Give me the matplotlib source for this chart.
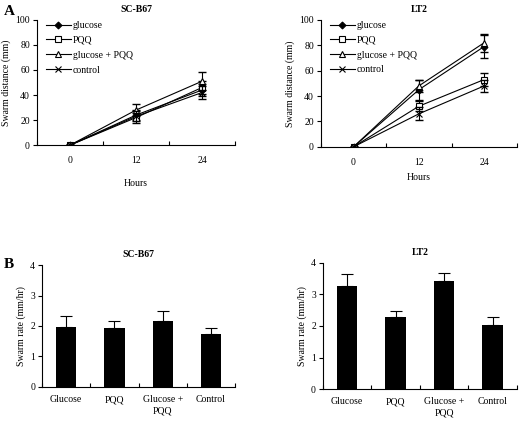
import matplotlib
matplotlib.use('Agg')
import matplotlib.pyplot as plt
import numpy as np

plt.rcParams['font.family'] = ['Liberation Serif', 'DejaVu Serif']
plt.rcParams['font.size'] = 7

# Dades: distància (panell A)
hores = ['0', '12', '24']
series = ['glucose', 'PQQ', 'glucose + PQQ', 'control']
marcadors = ['D', 's', '^', 'x']
omplert = ['black', 'white', 'white', 'black']

dist_sc = {
    'glucose': [0, 24, 44],
    'PQQ': [0, 22, 46],
    'glucose + PQQ': [0, 28, 51],
    'control': [0, 23, 42],
}
err_sc = {
    'glucose': [0, 4, 5],
    'PQQ': [0, 4, 5],
    'glucose + PQQ': [0, 5, 7],
    'control': [0, 4, 5],
}
dist_lt = {
    'glucose': [0, 45, 79],
    'PQQ': [0, 32, 53],
    'glucose + PQQ': [0, 48, 82],
    'control': [0, 26, 48],
}
err_lt = {
    'glucose': [0, 8, 9],
    'PQQ': [0, 4, 5],
    'glucose + PQQ': [0, 5, 7],
    'control': [0, 5, 5],
}

# Dades: velocitat (panell B)
tractaments = ['Glucose', 'PQQ', 'Glucose +\nPQQ', 'Control']
vel_sc = [1.97, 1.92, 2.17, 1.74]
verr_sc = [0.35, 0.24, 0.32, 0.21]
vel_lt = [3.28, 2.28, 3.42, 2.04]
verr_lt = [0.38, 0.19, 0.27, 0.25]

fig = plt.figure(figsize=(5.2, 4.22), dpi=100)


def estil_eixos(ax, n):
    ax.spines['top'].set_visible(False)
    ax.spines['right'].set_visible(False)
    ax.spines['left'].set_linewidth(0.8)
    ax.spines['bottom'].set_linewidth(0.8)
    ax.set_xlim(-0.5, n - 0.5)
    ax.set_xticks(np.arange(n))
    ax.set_xticks(np.arange(n + 1) - 0.5, minor=True)
    ax.tick_params(axis='x', which='major', length=0, pad=8)
    ax.tick_params(axis='x', which='minor', length=3, direction='in', width=0.8)
    ax.tick_params(axis='y', length=3, width=0.8, pad=2)


def panell_linies(ax, dades, errs, titol, lpad):
    x = np.arange(len(hores))
    for s, m, fc in zip(series, marcadors, omplert):
        ax.errorbar(x, dades[s], yerr=errs[s], color='black', lw=0,
                    capsize=3, elinewidth=0.8, fmt='none', ecolor='black')
        ax.plot(x, dades[s], color='black', lw=0.8,
                marker=m, ms=4 if m != 'D' else 3.5, mfc=fc, mec='black',
                mew=0.8, label=s)
    estil_eixos(ax, len(hores))
    ax.set_xticklabels(hores)
    ax.set_ylim(0, 100)
    ax.set_yticks([0, 20, 40, 60, 80, 100])
    ax.set_ylabel('Swarm distance (mm)', labelpad=3)
    ax.set_xlabel('Hours', labelpad=lpad)
    ax.set_title(titol, fontweight='bold', fontsize=7, pad=6)
    ax.legend(loc='upper left', bbox_to_anchor=(0.0, 1.06), frameon=False,
              fontsize=7, handlelength=2.6, handletextpad=0.2, labelspacing=0.6)


def panell_barres(ax, vals, errs, titol):
    x = np.arange(len(tractaments))
    ax.bar(x, vals, width=0.42, color='black',
           yerr=[np.zeros(len(errs)), errs], capsize=4,
           error_kw=dict(elinewidth=0.8, capthick=0.8, ecolor='black'))
    estil_eixos(ax, len(tractaments))
    ax.set_xticklabels(tractaments, linespacing=1.35, va='top')
    ax.tick_params(axis='x', which='major', pad=6)
    ax.set_ylim(0, 4)
    ax.set_yticks([0, 1, 2, 3, 4])
    ax.set_ylabel('Swarm rate (mm/hr)', labelpad=3)
    ax.set_title(titol, fontweight='bold', fontsize=7, pad=6)


ax1 = fig.add_axes([0.071, 0.656, 0.381, 0.297])
panell_linies(ax1, dist_sc, err_sc, 'SC-B67', 10)
ax2 = fig.add_axes([0.617, 0.652, 0.377, 0.301])
panell_linies(ax2, dist_lt, err_lt, 'LT2', 4)
ax3 = fig.add_axes([0.081, 0.083, 0.371, 0.289])
panell_barres(ax3, vel_sc, verr_sc, 'SC-B67')
ax4 = fig.add_axes([0.621, 0.078, 0.373, 0.299])
panell_barres(ax4, vel_lt, verr_lt, 'LT2')

fig.text(0.008, 0.965, 'A', fontsize=11, fontweight='bold')
fig.text(0.008, 0.365, 'B', fontsize=11, fontweight='bold')

plt.savefig('out.png', dpi=100)
